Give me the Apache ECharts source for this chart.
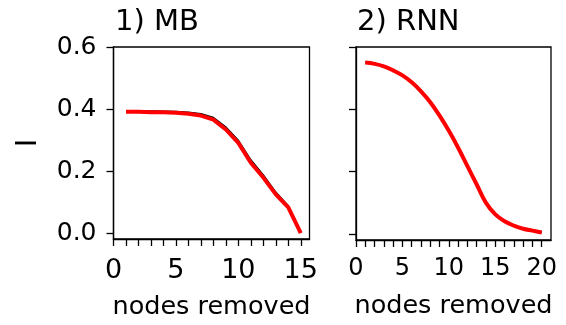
<!DOCTYPE html>
<html>
<head>
<meta charset="utf-8">
<script src="https://cdn.jsdelivr.net/npm/echarts@6/dist/echarts.min.js"></script>
<style>html,body{margin:0;padding:0;background:#fff}#c{width:566px;height:325px}</style>
</head>
<body>
<div id="c"></div>
<script>
const titles = ['1) MB', '2) RNN'];
const xName = 'nodes removed';
const yName = 'I';
const yTicks = [0, 0.2, 0.4, 0.6];
const mbX = [1,2,3,4,5,6,7,8,9,10,11,12,13,14,15];
const mbRed = [0.391,0.391,0.390,0.390,0.388,0.385,0.379,0.366,0.334,0.291,0.227,0.179,0.125,0.083,0.0];
const mbBlack = [0.393,0.393,0.393,0.392,0.391,0.389,0.384,0.372,0.341,0.298,0.235,0.186,0.131,0.087,0.002];
const mbXTicks = [0,1,2,3,4,5,6,7,8,9,10,11,12,13,14,15];
const mbXLabels = [0,5,10,15];
const rnnX = [1,2,3,4,5,6,7,8,9,10,11,12,13,14,15,16,17,18,19,20];
const rnnRed = [0.550,0.546,0.538,0.525,0.509,0.487,0.458,0.423,0.380,0.331,0.277,0.218,0.159,0.100,0.063,0.041,0.027,0.017,0.011,0.005];
const rnnBlack = [0.551,0.547,0.539,0.526,0.510,0.488,0.459,0.424,0.381,0.332,0.278,0.219,0.160,0.101,0.064,0.042,0.028,0.018,0.012,0.006];
const rnnXTicks = [0,1,2,3,4,5,6,7,8,9,10,11,12,13,14,15,16,17,18,19,20];
const rnnXLabels = [0,5,10,15,20];

const FONT = 'DejaVu Sans';
const pairs = (xs, ys) => xs.map((x, i) => [x, ys[i]]);

const chart = echarts.init(document.getElementById('c'), null, {renderer: 'canvas'});

function xAxisCfg(idx, max, ticks, labels, labelSize, labelMargin, nameGap) {
  return {
    type: 'value', gridIndex: idx, min: 0, max: max,
    name: xName, nameLocation: 'middle', nameGap: nameGap,
    nameTextStyle: {fontFamily: FONT, fontSize: 25.5, color: '#000'},
    axisLine: {show: true, onZero: false, lineStyle: {color: '#000', width: 1.3}},
    axisTick: {show: true, inside: false, length: 7, customValues: ticks, lineStyle: {color: '#000', width: 1.3}},
    axisLabel: {show: true, customValues: labels, margin: labelMargin, fontFamily: FONT, fontSize: labelSize, color: '#000', formatter: v => String(v)},
    splitLine: {show: false}
  };
}
function yAxisCfg(idx, showLabels) {
  return {
    type: 'value', gridIndex: idx, min: -0.019, max: 0.6,
    axisLine: {show: true, onZero: false, lineStyle: {color: '#000', width: 1.3}},
    axisTick: {show: true, inside: false, length: 7, customValues: yTicks, lineStyle: {color: '#000', width: 1.3}},
    axisLabel: {show: showLabels, customValues: yTicks, margin: 17, fontFamily: FONT, fontSize: 25, color: '#000', formatter: v => v.toFixed(1)},
    splitLine: {show: false}
  };
}

chart.setOption({
  animation: false,
  backgroundColor: '#fff',
  grid: [
    {left: 113.5, top: 47, width: 196, height: 193, show: true, borderColor: '#000', borderWidth: 1.3, containLabel: false},
    {left: 356, top: 47, width: 195, height: 193, show: true, borderColor: '#000', borderWidth: 1.3, containLabel: false}
  ],
  xAxis: [
    xAxisCfg(0, 15.7, mbXTicks, mbXLabels, 27, 18, 55),
    xAxisCfg(1, 21, rnnXTicks, rnnXLabels, 24, 17, 53)
  ],
  yAxis: [yAxisCfg(0, true), yAxisCfg(1, false)],
  graphic: [
    {type: 'text', x: 115, y: 22.5, style: {text: titles[0], font: '29px "' + FONT + '"', fill: '#000', align: 'left', verticalAlign: 'middle'}},
    {type: 'text', x: 357, y: 22.5, style: {text: titles[1], font: '29px "' + FONT + '"', fill: '#000', align: 'left', verticalAlign: 'middle'}},
    {type: 'text', x: 28, y: 143, rotation: Math.PI / 2, style: {text: yName, font: '29px "' + FONT + '"', fill: '#000', align: 'center', verticalAlign: 'middle'}}
  ],
  series: [
    {type: 'line', xAxisIndex: 0, yAxisIndex: 0, data: pairs(mbX, mbBlack), showSymbol: false, symbol: 'none', lineStyle: {color: '#000', width: 2}},
    {type: 'line', xAxisIndex: 0, yAxisIndex: 0, data: pairs(mbX, mbRed), showSymbol: false, symbol: 'none', lineStyle: {color: '#ff0000', width: 4}},
    {type: 'line', xAxisIndex: 1, yAxisIndex: 1, data: pairs(rnnX, rnnBlack), smooth: 0.4, showSymbol: false, symbol: 'none', lineStyle: {color: '#000', width: 2}},
    {type: 'line', xAxisIndex: 1, yAxisIndex: 1, data: pairs(rnnX, rnnRed), smooth: 0.4, showSymbol: false, symbol: 'none', lineStyle: {color: '#ff0000', width: 4}}
  ]
});
</script>
</body>
</html>
